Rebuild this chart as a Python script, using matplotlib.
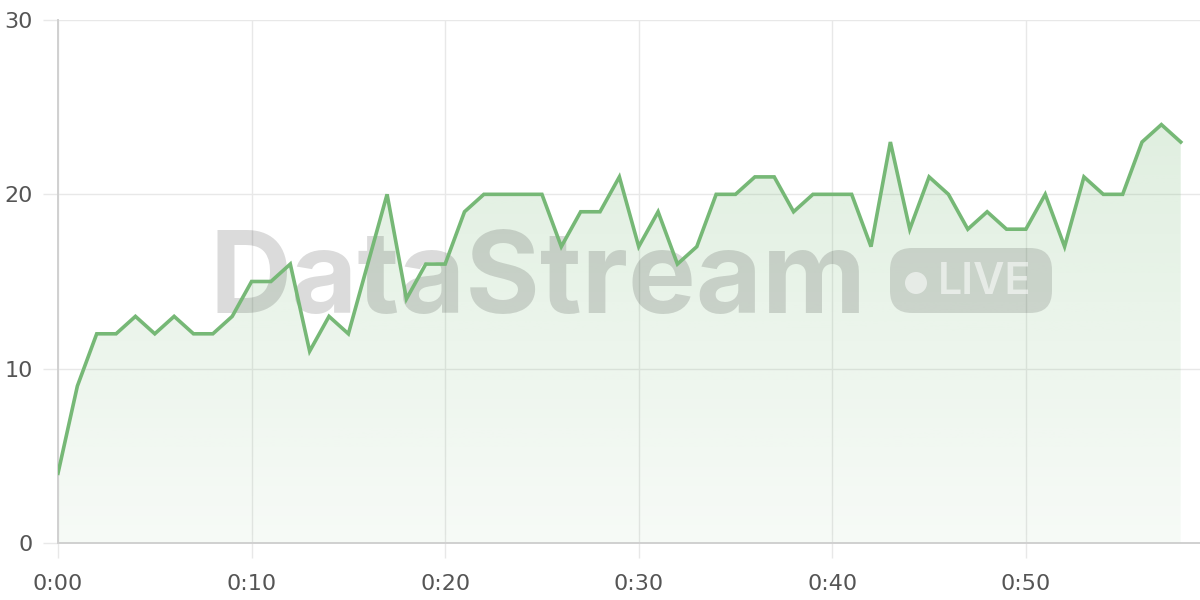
import numpy as np
import matplotlib
matplotlib.use('Agg')
import matplotlib.pyplot as plt
from matplotlib.patches import FancyBboxPatch, Circle
from matplotlib.transforms import IdentityTransform

# data: one reading per minute
minutes = list(range(59))
values = [4, 9, 12, 12, 13, 12, 13, 12, 12, 13,
          15, 15, 16, 11, 13, 12, 16, 20, 14, 16,
          16, 19, 20, 20, 20, 20, 17, 19, 19, 21,
          17, 19, 16, 17, 20, 20, 21, 21, 19, 20,
          20, 20, 17, 23, 18, 21, 20, 18, 19, 18,
          18, 20, 17, 21, 20, 20, 23, 24, 23]
xticks = [0, 10, 20, 30, 40, 50]
xticklabels = ['0:00', '0:10', '0:20', '0:30', '0:40', '0:50']
yticks = [0, 10, 20, 30]

line_color = '#76b876'
grid_color = '#e8e8e8'
label_color = '#555555'

fig = plt.figure(figsize=(12, 6), dpi=100)
ax = fig.add_axes([58/1200, 57/600, 1145/1200, 523/600])

x = np.array(minutes)
y = np.array(values)

# gradient fill under the line
fill = ax.fill_between(x, y, 0, color='none', lw=0)
h = 256
grad = np.zeros((h, 2, 4))
rgb = matplotlib.colors.to_rgb(line_color)
grad[..., 0], grad[..., 1], grad[..., 2] = rgb
grad[..., 3] = np.linspace(0.27, 0.06, h)[:, None]
im = ax.imshow(grad, extent=[0, 58, 0, 30], origin='upper', aspect='auto', zorder=1)
im.set_clip_path(fill.get_paths()[0], transform=ax.transData)

# watermark
ax.text(0.419, 0.44, 'DataStream', transform=ax.transAxes, ha='center', va='baseline',
        fontsize=82, fontweight='bold', family='Inter', color='black', alpha=0.14, zorder=2)
pill = FancyBboxPatch((890, 287), 162, 65, boxstyle='round,pad=0,rounding_size=22',
                      transform=IdentityTransform(), facecolor='black', alpha=0.13,
                      edgecolor='none', zorder=2, clip_on=False)
ax.add_patch(pill)
dot = Circle((916, 317), 11, transform=IdentityTransform(), facecolor='white', alpha=0.55,
             edgecolor='none', zorder=2.1, clip_on=False)
ax.add_patch(dot)
fig.text(985/1200, 317/600, 'LIVE', ha='center', va='center', fontsize=31,
         family='Inter', fontweight='semibold', color='white', alpha=0.55, zorder=2.1)

ax.plot(x, y, color=line_color, lw=2.6, zorder=3, solid_joinstyle='miter')

ax.set_xlim(0, 59.15)
ax.set_ylim(0, 30)
ax.set_xticks(xticks)
ax.set_xticklabels(xticklabels)
ax.set_yticks(yticks)
ax.grid(True, color=grid_color, lw=1)
ax.set_axisbelow(True)
ax.tick_params(colors=grid_color, labelcolor=label_color, labelsize=16, length=11, width=1, pad=7)
ax.tick_params(axis='x', pad=11)
for s in ['top', 'right']:
    ax.spines[s].set_visible(False)
ax.spines['left'].set_color('#d0d0d0')
ax.spines['left'].set_linewidth(1.4)
ax.spines['bottom'].set_color('#d0d0d0')
ax.spines['bottom'].set_linewidth(1.4)

plt.savefig('out.png', dpi=100)
